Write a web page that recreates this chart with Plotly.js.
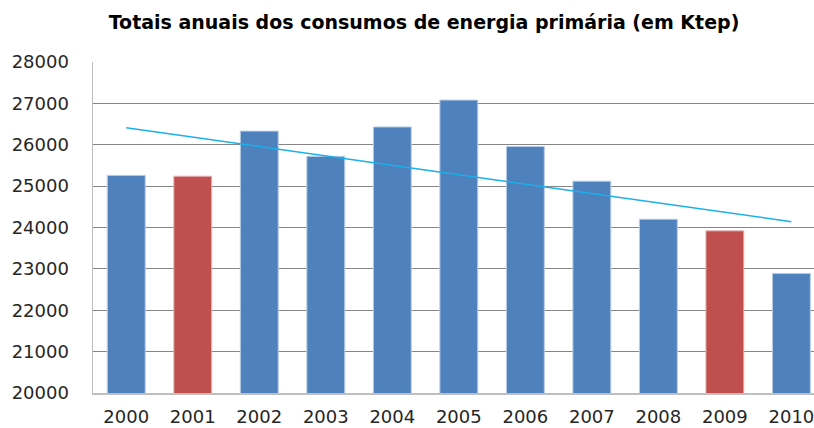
<!DOCTYPE html>
<html>
<head>
<meta charset="utf-8">
<script src="https://cdn.plot.ly/plotly-3.0.1.min.js"></script>
<style>html,body{margin:0;padding:0;background:#fff;overflow:hidden;}#chart{width:814px;height:428px;}</style>
</head>
<body>
<div id="chart"></div>
<script>
const years = ['2000','2001','2002','2003','2004','2005','2006','2007','2008','2009','2010'];
const consumo = [25260, 25240, 26330, 25720, 26430, 27080, 25960, 25120, 24200, 23920, 22890];
const highlightYears = ['2001','2009'];
const trendYears = ['2000','2010'];
const trendValues = [26410, 24140];
const yTicks = [20000, 21000, 22000, 23000, 24000, 25000, 26000, 27000, 28000];

const blue = '#4F81BD', red = '#C0504D';
const colors = years.map(y => highlightYears.includes(y) ? red : blue);
const lineColors = years.map(y => highlightYears.includes(y) ? '#E6B9B8' : '#B9CDE5');

const traces = [
  {type:'bar', x: years, y: consumo, marker:{color: colors, line:{color: lineColors, width:1}}, hoverinfo:'skip'},
  {type:'scatter', mode:'lines', x: trendYears, y: trendValues, line:{color:'#1BB0EA', width:1.5}, hoverinfo:'skip'}
];

const layout = {
  width: 814, height: 428,
  margin: {l:93, r:0, t:62, b:35, pad:0},
  paper_bgcolor:'#fff', plot_bgcolor:'#fff',
  showlegend:false,
  bargap: 0.43,
  font:{family:'DejaVu Sans', color:'#262626'},
  title:{text:'<b>Totais anuais dos consumos de energia primária (em Ktep)</b>', font:{family:'DejaVu Sans', size:19, color:'#000'}, x:424/814, xanchor:'center', y:1-22/428, yanchor:'middle'},
  xaxis:{type:'category', range:[-0.5, 10.34], showgrid:false, showline:true, linecolor:'#BFBFBF', linewidth:1.5, ticks:'', tickfont:{size:18, family:'DejaVu Sans', color:'#262626'}, ticklabelstandoff:7, fixedrange:true},
  yaxis:{range:[20000, 28000], tickvals: yTicks, ticktext: yTicks.map(String), showgrid:true, gridcolor:'#868686', gridwidth:1, showline:true, linecolor:'#BFBFBF', linewidth:1.5, mirror:true, zeroline:false, ticks:'', tickfont:{size:18, family:'DejaVu Sans', color:'#262626'}, ticklabelstandoff:19, fixedrange:true}
};

Plotly.newPlot('chart', traces, layout, {displayModeBar:false, staticPlot:true});
</script>
</body>
</html>
